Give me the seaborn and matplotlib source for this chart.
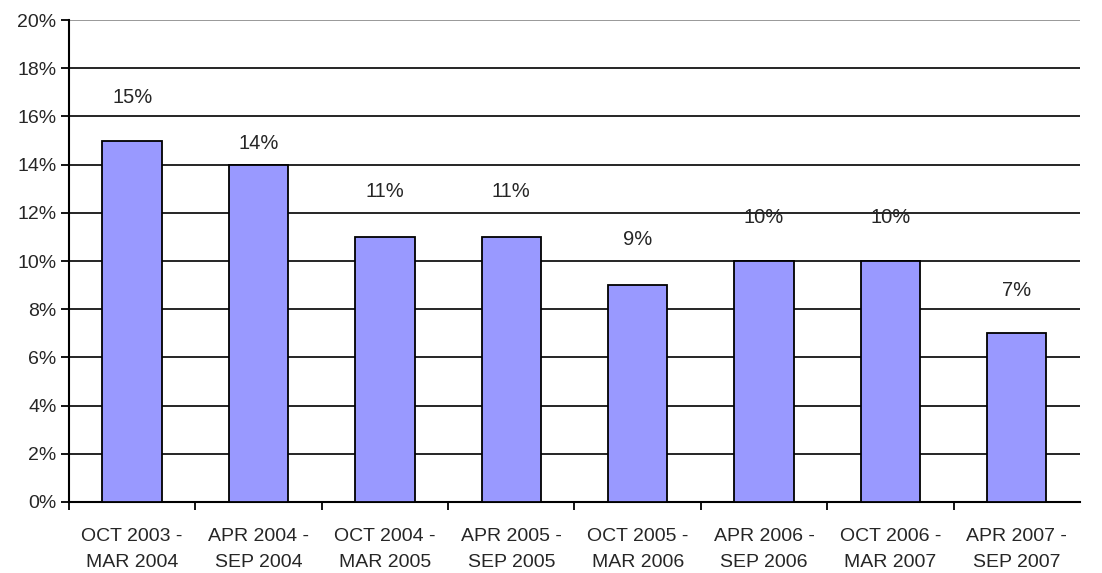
import pandas as pd
import seaborn as sns
import matplotlib.pyplot as plt
from matplotlib.ticker import FuncFormatter

periods = ['OCT 2003 -\nMAR 2004', 'APR 2004 -\nSEP 2004', 'OCT 2004 -\nMAR 2005',
           'APR 2005 -\nSEP 2005', 'OCT 2005 -\nMAR 2006', 'APR 2006 -\nSEP 2006',
           'OCT 2006 -\nMAR 2007', 'APR 2007 -\nSEP 2007']
shares = [15, 14, 11, 11, 9, 10, 10, 7]

df = pd.DataFrame({'period': periods, 'share': shares})

sns.set_style('white')
plt.rcParams['font.family'] = ['Liberation Sans', 'DejaVu Sans']

fig = plt.figure(figsize=(11.02, 5.73), dpi=100)
ax = fig.add_axes([0.0626, 0.124, 0.9174, 0.841])

sns.barplot(data=df, x='period', y='share', color='#9999ff', saturation=1,
            edgecolor='black', linewidth=1.3, width=0.47, ax=ax, zorder=3)

ax.set_ylim(0, 20)
ax.set_yticks(range(0, 21, 2))
ax.yaxis.set_major_formatter(FuncFormatter(lambda v, p: f'{v:.0f}%'))
ax.set_xlim(-0.5, len(periods) - 0.5)
ax.set_xlabel('')
ax.set_ylabel('')

# horizontal gridlines (the 20% one is grey in the original)
for v in range(2, 20, 2):
    ax.axhline(v, color='black', lw=1.2, zorder=1)
ax.axhline(20, color='#888888', lw=1.2, zorder=1)

for s in ['top', 'right']:
    ax.spines[s].set_visible(False)
for s in ['left', 'bottom']:
    ax.spines[s].set_color('black')
    ax.spines[s].set_linewidth(1.5)

ax.tick_params(axis='y', direction='out', length=6, width=1.3, color='black',
               labelsize=14, pad=3, left=True)
ax.set_xticks(range(len(periods)))
ax.set_xticklabels(periods, fontsize=14, linespacing=1.7)
ax.tick_params(axis='x', length=0, pad=19)
# category boundary tick marks below the axis
ax.set_xticks([i + 0.5 for i in range(len(periods) - 1)] + [-0.5], minor=True)
ax.tick_params(axis='x', which='minor', direction='out', length=6, width=1.3,
               color='black', bottom=True)

# data labels above bars
label_offsets = [31, 15, 33, 33, 33, 31, 31, 31]
for i, (v, off) in enumerate(zip(shares, label_offsets)):
    ax.annotate(f'{v}%', (i, v), xytext=(0, off), textcoords='offset points',
                ha='center', va='center', fontsize=14.5, zorder=4)

plt.savefig('out.png', dpi=100)
